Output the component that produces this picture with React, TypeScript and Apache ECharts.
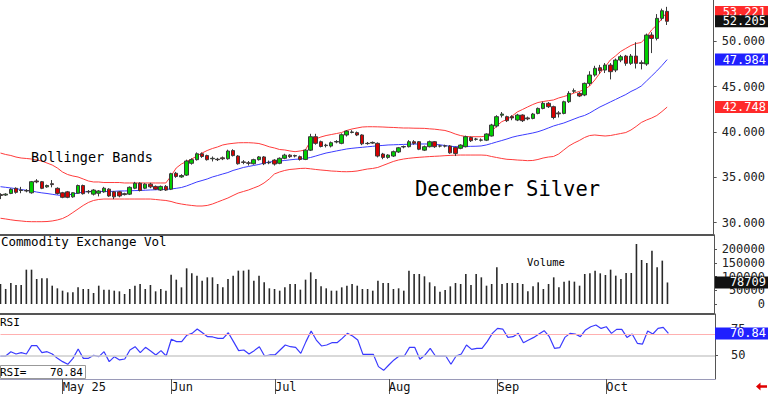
import React, { useEffect, useRef } from "react";
import * as echarts from "echarts";

const FONT = "'DejaVu Sans Mono', monospace";

// ---- sessions (category axis) ----
const firstSession = "2025-04-14";
const exchangeHolidays = ["2025-04-18", "2025-05-26", "2025-06-19", "2025-07-04", "2025-09-01"];
const emptySessionsAfter = 9;
const monthNames = ["Jan", "Feb", "Mar", "Apr", "May", "Jun", "Jul", "Aug", "Sep", "Oct", "Nov", "Dec"];

// ---- December Silver daily OHLC ----
const opens = [
  33.1, 33.05, 33.23, 33.79, 33.55, 33.55, 33.3, 34.6, 34.52, 33.95,
  34.3, 33.79, 33.3, 33.4, 32.85, 33.25, 34.1, 33.45, 33.15, 33.25,
  33.4, 33.7, 33.4, 33.4, 33.2, 33.15, 33.8, 34.35, 33.8, 34.25,
  34.0, 33.6, 34.0, 33.7, 35.45, 35.05, 35.25, 36.55, 36.95, 37.6,
  37.4, 37.05, 37.0, 37.15, 37.05, 37.95, 37.35, 36.7, 36.6, 36.5,
  36.95, 37.25, 36.6, 36.9, 36.55, 37.1, 37.45, 37.4, 37.28, 36.98,
  38.0, 39.48, 38.93, 38.5, 38.45, 38.9, 38.75, 39.67, 39.95, 39.93,
  39.67, 38.75, 38.78, 38.75, 37.57, 37.2, 37.35, 37.8, 38.35, 38.38,
  38.93, 38.93, 38.0, 38.38, 38.93, 38.45, 38.47, 38.45, 38.3, 38.2,
  38.38, 39.4, 39.2, 39.1, 39.1, 39.56, 40.66, 41.85, 41.69, 41.7,
  41.32, 41.87, 41.55, 41.5, 42.05, 42.6, 43.16, 42.79, 42.1, 42.05,
  43.34, 44.5, 44.26, 44.08, 45.36, 46.28, 47.09, 46.83, 47.38, 46.83,
  47.93, 48.37, 47.57, 48.37, 47.64, 47.5, 50.69, 50.32, 52.53, 53.3,
];
const closes = [
  33.0, 33.15, 33.68, 33.35, 33.6, 33.5, 34.52, 34.5, 33.79, 34.1,
  34.2, 33.23, 32.8, 32.8, 33.3, 34.1, 33.2, 33.4, 33.6, 33.5,
  33.8, 32.95, 32.85, 32.95, 33.1, 33.9, 34.35, 33.55, 34.25, 33.95,
  33.7, 34.0, 33.6, 35.4, 35.1, 35.2, 36.8, 36.95, 37.6, 37.3,
  36.95, 37.1, 36.95, 37.05, 37.9, 37.4, 36.5, 36.65, 36.55, 36.95,
  37.25, 36.5, 36.65, 36.47, 37.1, 37.45, 37.28, 37.35, 36.98, 38.0,
  39.48, 38.75, 38.4, 38.55, 38.82, 38.95, 39.7, 40.1, 40.0, 39.67,
  38.7, 38.72, 38.85, 37.35, 37.2, 37.46, 37.83, 38.26, 38.4, 38.93,
  38.75, 38.1, 38.38, 38.93, 38.38, 38.47, 38.45, 37.7, 37.64, 38.56,
  39.48, 39.04, 39.22, 39.12, 39.78, 40.77, 41.69, 41.98, 41.25, 41.55,
  41.87, 41.25, 41.45, 41.98, 42.6, 43.16, 42.79, 41.6, 42.0, 43.34,
  44.26, 44.55, 43.97, 45.36, 46.28, 47.02, 46.76, 47.38, 46.65, 47.93,
  48.3, 47.57, 48.37, 47.57, 47.55, 50.69, 50.32, 52.53, 53.37, 52.205,
];
const lows = [
  32.6, 32.95, 33.15, 33.2, 33.25, 33.35, 33.2, 34.35, 33.7, 33.85,
  33.9, 33.1, 32.7, 32.7, 32.75, 33.2, 33.1, 33.2, 33.0, 32.9,
  33.3, 32.85, 32.6, 32.8, 33.0, 33.05, 33.7, 33.45, 33.7, 33.8,
  33.6, 33.5, 33.5, 33.6, 34.95, 34.95, 35.15, 36.4, 36.85, 37.15,
  36.85, 36.75, 36.8, 36.9, 36.95, 37.3, 36.4, 36.45, 36.3, 36.4,
  36.85, 36.35, 36.45, 36.3, 36.45, 37.0, 37.15, 37.2, 36.85, 36.9,
  37.9, 38.6, 38.3, 38.3, 38.3, 38.75, 38.65, 39.5, 39.85, 39.55,
  38.55, 38.6, 38.7, 37.2, 37.0, 37.05, 37.25, 37.7, 38.2, 38.3,
  38.6, 38.0, 37.9, 38.3, 38.25, 38.3, 38.3, 37.6, 37.35, 38.1,
  38.3, 38.9, 39.05, 38.95, 39.0, 39.5, 40.5, 41.6, 41.1, 41.3,
  41.2, 41.1, 41.3, 41.4, 41.95, 42.5, 42.65, 41.4, 41.6, 41.95,
  43.2, 44.3, 43.85, 43.95, 45.1, 46.1, 46.4, 46.5, 45.8, 46.6,
  47.7, 47.3, 47.4, 47.0, 46.9, 47.3, 48.7, 50.1, 52.3, 51.8,
];
const highs = [
  33.25, 33.25, 33.8, 33.9, 33.95, 33.7, 34.6, 34.8, 34.6, 34.2,
  34.7, 33.9, 33.4, 33.5, 33.35, 34.2, 34.2, 33.6, 33.7, 33.6,
  33.95, 33.8, 33.5, 33.5, 33.3, 34.0, 34.5, 34.45, 34.35, 34.4,
  34.1, 34.1, 34.15, 35.5, 35.6, 35.35, 36.95, 37.1, 37.75, 37.75,
  37.5, 37.3, 37.15, 37.3, 38.05, 38.1, 37.45, 36.9, 36.8, 37.05,
  37.35, 37.35, 36.85, 37.0, 37.2, 37.6, 37.55, 37.5, 37.4, 38.1,
  39.8, 39.8, 39.05, 38.7, 38.95, 39.1, 39.85, 40.2, 40.2, 40.05,
  39.75, 38.9, 38.95, 38.85, 37.7, 37.55, 37.95, 38.35, 38.5, 39.1,
  39.1, 39.0, 38.5, 39.05, 39.0, 38.6, 38.6, 38.55, 38.4, 38.65,
  39.6, 39.5, 39.35, 39.3, 39.85, 40.9, 41.85, 42.2, 41.8, 41.85,
  42.0, 41.95, 41.7, 42.1, 42.7, 43.35, 43.3, 42.9, 42.3, 43.45,
  44.5, 44.8, 44.4, 45.45, 46.7, 47.3, 47.4, 47.6, 47.6, 48.1,
  48.5, 48.5, 48.6, 49.9, 47.9, 50.85, 51.0, 53.0, 53.6, 53.8,
];

// ---- Bollinger Bands ----
const bbUpper = [
  37.68, 37.52, 37.41, 37.24, 37.13, 37.08, 37.02, 36.91, 36.8, 36.58,
  36.36, 36.03, 35.59, 35.31, 35.15, 35.04, 34.82, 34.6, 34.49, 34.49,
  34.43, 34.43, 34.43, 34.43, 34.38, 34.38, 34.38, 34.38, 34.38, 34.38,
  34.38, 34.38, 34.38, 35.15, 36.03, 36.47, 36.75, 37.02, 37.35, 37.68,
  37.96, 38.18, 38.35, 38.57, 38.68, 38.75, 38.81, 38.82, 38.82, 38.79,
  38.73, 38.57, 38.37, 38.24, 38.07, 38.02, 37.91, 37.83, 37.91, 38.02,
  39.01, 39.23, 39.45, 39.61, 39.72, 39.83, 39.94, 40.17, 40.33, 40.44,
  40.55, 40.58, 40.58, 40.57, 40.55, 40.52, 40.5, 40.47, 40.44, 40.44,
  40.42, 40.41, 40.4, 40.35, 40.31, 40.24, 40.17, 40.0, 39.78, 39.61,
  39.5, 39.48, 39.48, 39.48, 39.56, 40.03, 40.66, 41.14, 41.38, 41.76,
  42.21, 42.48, 42.76, 43.03, 43.25, 43.36, 43.45, 43.53, 43.75, 43.91,
  44.08, 44.3, 44.47, 44.69, 45.07, 45.73, 46.5, 47.17, 47.94, 48.38,
  48.88, 49.21, 49.54, 49.76, 49.87, 50.47, 51.25, 51.8, 52.51, 53.221,
];
const bbMiddle = [
  33.97, 33.9, 33.83, 33.75, 33.66, 33.57, 33.5, 33.38, 33.29, 33.22,
  33.13, 33.05, 33.0, 33.05, 33.16, 33.27, 33.38, 33.44, 33.44, 33.44,
  33.44, 33.44, 33.46, 33.5, 33.5, 33.52, 33.54, 33.55, 33.58, 33.61,
  33.63, 33.66, 33.68, 33.72, 33.79, 33.88, 34.05, 34.27, 34.49, 34.65,
  34.82, 35.04, 35.2, 35.37, 35.53, 35.76, 35.92, 36.09, 36.2, 36.31,
  36.42, 36.58, 36.69, 36.75, 36.8, 36.86, 36.93, 36.99, 37.02, 37.08,
  37.19, 37.35, 37.52, 37.68, 37.79, 37.91, 38.02, 38.13, 38.2, 38.26,
  38.31, 38.37, 38.42, 38.48, 38.52, 38.57, 38.59, 38.61, 38.63, 38.65,
  38.67, 38.68, 38.68, 38.68, 38.64, 38.59, 38.51, 38.43, 38.38, 38.38,
  38.4, 38.42, 38.43, 38.46, 38.57, 38.73, 38.9, 39.06, 39.23, 39.42,
  39.56, 39.67, 39.78, 39.89, 40.03, 40.22, 40.44, 40.66, 40.83, 40.99,
  41.21, 41.43, 41.65, 41.82, 42.09, 42.43, 42.76, 43.03, 43.31, 43.58,
  43.86, 44.13, 44.47, 44.74, 45.07, 45.62, 46.17, 46.73, 47.33, 47.984,
];
const bbLower = [
  30.49, 30.41, 30.32, 30.24, 30.19, 30.13, 30.11, 30.11, 30.11, 30.13,
  30.19, 30.3, 30.46, 30.74, 31.12, 31.51, 31.9, 32.23, 32.45, 32.56,
  32.61, 32.61, 32.61, 32.61, 32.61, 32.61, 32.61, 32.61, 32.61, 32.61,
  32.56, 32.5, 32.45, 32.34, 32.17, 32.06, 31.97, 31.9, 31.84, 31.84,
  31.9, 32.06, 32.28, 32.5, 32.72, 33.0, 33.27, 33.44, 33.61, 33.83,
  34.05, 34.38, 34.82, 35.37, 35.59, 35.76, 35.87, 35.92, 35.98, 36.0,
  35.94, 35.87, 35.81, 35.76, 35.7, 35.67, 35.63, 35.62, 35.64, 35.7,
  35.81, 35.92, 35.98, 36.09, 36.31, 36.53, 36.75, 36.91, 37.02, 37.1,
  37.16, 37.21, 37.25, 37.29, 37.32, 37.35, 37.39, 37.42, 37.45, 37.46,
  37.46, 37.46, 37.46, 37.46, 37.43, 37.3, 37.19, 37.08, 36.99, 36.96,
  36.91, 36.88, 36.84, 36.86, 36.97, 37.13, 37.24, 37.3, 37.57, 38.02,
  38.46, 38.79, 39.06, 39.39, 39.61, 39.67, 39.61, 39.56, 39.61, 39.72,
  39.83, 39.94, 40.22, 40.61, 41.05, 41.32, 41.54, 41.82, 42.26, 42.748,
];

// ---- Commodity Exchange volume ----
const volumes = [
  73000, 55000, 77000, 69500, 69500, 125500, 125500, 91400, 93800, 93800,
  67000, 57300, 48700, 42600, 42600, 60900, 54800, 54800, 40200, 67000,
  52400, 52400, 48700, 46300, 36600, 54800, 67000, 73100, 54800, 69500,
  46300, 54800, 48700, 107200, 89000, 60900, 130400, 112100, 103600, 85300,
  97500, 97500, 73100, 60900, 91400, 103600, 121900, 121900, 125500, 85300,
  103600, 79200, 57300, 54800, 48700, 60900, 73100, 73100, 52400, 89000,
  115800, 91400, 64600, 57300, 48700, 48700, 60900, 67000, 73100, 67000,
  54800, 54800, 48700, 85300, 76800, 76800, 54800, 57300, 48700, 121900,
  109700, 109700, 101200, 79200, 64600, 45100, 51200, 64600, 76800, 73100,
  109700, 69500, 109700, 97500, 67000, 73100, 134100, 73100, 76800, 76800,
  76800, 73100, 46300, 64600, 79200, 54800, 73100, 97500, 60900, 81700,
  85300, 81700, 67000, 109700, 112100, 121900, 112100, 106000, 125500, 103600,
  91400, 113400, 113400, 219400, 160900, 149900, 195000, 134100, 158500, 78709,
];

// ---- RSI ----
const rsi = [
  49.5, 49.5, 53.6, 51.4, 52.7, 51.4, 59.3, 59.3, 52.7, 53.6,
  51.4, 47.3, 44.2, 41.7, 47.3, 56.1, 47.3, 47.3, 50.2, 48.9,
  53.6, 44.2, 48.9, 45.8, 46.7, 55.2, 58.3, 52.7, 57.7, 54.2,
  50.5, 54.6, 49.5, 65.3, 63.1, 63.1, 69.3, 70.9, 75.0, 71.5,
  67.8, 67.5, 66.2, 66.2, 71.5, 63.1, 54.6, 55.2, 51.4, 54.6,
  58.3, 49.5, 50.5, 50.5, 55.2, 59.9, 58.3, 57.7, 52.0, 63.1,
  73.1, 64.6, 59.0, 59.9, 62.1, 62.1, 66.2, 70.9, 68.4, 64.6,
  51.1, 51.1, 51.1, 39.5, 36.0, 41.0, 45.8, 49.5, 49.5, 57.7,
  57.7, 46.4, 50.5, 56.8, 49.5, 49.5, 49.5, 41.7, 49.5, 51.4,
  59.9, 55.8, 56.8, 56.8, 63.1, 70.9, 75.6, 75.0, 67.1, 67.8,
  70.9, 62.1, 64.6, 67.1, 70.3, 73.4, 67.8, 56.8, 57.4, 67.1,
  70.9, 70.3, 67.8, 74.1, 77.2, 78.8, 75.6, 77.2, 70.9, 74.7,
  74.7, 67.1, 70.3, 61.5, 60.8, 73.1, 70.3, 75.6, 76.6, 70.84,
];

const priceTicks = [30, 35, 40, 45, 50];
const volumeTicks = [0, 50000, 100000, 150000, 200000];
const rsiTicks = [50, 75];
const rsiOverbought = 70;
const rsiMidline = 50;

function buildSessions(start: string, count: number, closed: string[]): string[] {
  const out: string[] = [];
  const d = new Date(start + "T12:00:00Z");
  while (out.length < count) {
    const dow = d.getUTCDay();
    const iso = d.toISOString().slice(0, 10);
    if (dow !== 0 && dow !== 6 && !closed.includes(iso)) out.push(iso);
    d.setUTCDate(d.getUTCDate() + 1);
  }
  return out;
}

export default function App() {
  const ref = useRef<HTMLDivElement>(null);

  useEffect(() => {
    const el = ref.current;
    if (!el) return;
    const chart = echarts.init(el, null, { renderer: "svg" });
    const n = closes.length;
    const dates = buildSessions(firstSession, n + emptySessionsAfter, exchangeHolidays);

    const monthStarts = new Map<number, string>();
    let firstLabel = true;
    for (let i = 1; i < n; i++) {
      if (dates[i].slice(5, 7) !== dates[i - 1].slice(5, 7)) {
        const m = monthNames[Number(dates[i].slice(5, 7)) - 1];
        monthStarts.set(i, firstLabel ? `${m} ${dates[i].slice(2, 4)}` : m);
        firstLabel = false;
      }
    }
    const isMonthStart = (i: number) => monthStarts.has(i);

    const L = 0.5;
    const R = 53;
    const axisGrey = "#555";

    const xBase = (gi: number, extra: any = {}) => ({
      type: "category",
      gridIndex: gi,
      data: dates,
      boundaryGap: false,
      axisTick: { show: false },
      axisLabel: { show: false },
      splitLine: { show: false },
      ...extra,
    });

    const option: any = {
      animation: false,
      backgroundColor: "#ffffff",
      grid: [
        { left: L, right: R, top: 0, height: 235 },
        { left: L, right: R, top: 235, height: 79 },
        { left: L, right: R, top: 314, height: 65 },
      ],
      xAxis: [
        xBase(0, { axisLine: { show: true, onZero: false, lineStyle: { color: axisGrey, width: 2 } } }),
        xBase(1, { axisLine: { show: true, onZero: false, lineStyle: { color: axisGrey, width: 2 } } }),
        xBase(2, {
          axisLine: { show: true, onZero: false, lineStyle: { color: "#9a9ab8", width: 1 } },
          axisTick: { show: true, interval: isMonthStart, length: 15, lineStyle: { color: axisGrey } },
          axisLabel: {
            show: true,
            interval: isMonthStart,
            formatter: (_v: string, i: number) => monthStarts.get(i) ?? "",
            align: "left",
            margin: 2,
            fontFamily: FONT,
            fontSize: 12,
            color: "#111",
          },
        }),
      ],
      yAxis: [
        {
          type: "value",
          gridIndex: 0,
          position: "right",
          min: 28.644,
          max: 54.553,
          splitLine: { show: false },
          axisLine: { show: true, onZero: false, lineStyle: { color: axisGrey } },
          axisTick: { show: true, length: 3, customValues: priceTicks, lineStyle: { color: axisGrey } },
          axisLabel: {
            customValues: priceTicks,
            formatter: (v: number) => v.toFixed(3),
            margin: 8,
            fontFamily: FONT,
            fontSize: 12,
            color: "#222",
          },
        },
        {
          type: "value",
          gridIndex: 1,
          position: "right",
          min: -36560,
          max: 252260,
          splitLine: { show: false },
          axisLine: { show: true, onZero: false, lineStyle: { color: axisGrey } },
          axisTick: { show: true, length: 3, customValues: volumeTicks, lineStyle: { color: axisGrey } },
          axisLabel: {
            customValues: volumeTicks,
            formatter: (v: number) => String(v),
            align: "right",
            margin: 51,
            fontFamily: FONT,
            fontSize: 12,
            color: "#222",
          },
        },
        {
          type: "value",
          gridIndex: 2,
          position: "right",
          min: 27.8,
          max: 89.2,
          splitLine: { show: false },
          axisLine: { show: true, onZero: false, lineStyle: { color: axisGrey } },
          axisTick: { show: true, length: 3, customValues: rsiTicks, lineStyle: { color: axisGrey } },
          axisLabel: {
            customValues: rsiTicks,
            formatter: (v: number) => String(v),
            margin: 16,
            fontFamily: FONT,
            fontSize: 12,
            color: "#222",
          },
        },
      ],
      series: [
        {
          name: "Upper",
          type: "line",
          xAxisIndex: 0,
          yAxisIndex: 0,
          data: bbUpper,
          symbol: "none",
          lineStyle: { color: "#ff3c3c", width: 1 },
          z: 1,
        },
        {
          name: "Middle",
          type: "line",
          xAxisIndex: 0,
          yAxisIndex: 0,
          data: bbMiddle,
          symbol: "none",
          lineStyle: { color: "#3c3cff", width: 1 },
          z: 1,
        },
        {
          name: "Lower",
          type: "line",
          xAxisIndex: 0,
          yAxisIndex: 0,
          data: bbLower,
          symbol: "none",
          lineStyle: { color: "#ff3c3c", width: 1 },
          z: 1,
        },
        {
          name: "Price",
          type: "candlestick",
          xAxisIndex: 0,
          yAxisIndex: 0,
          barWidth: 4,
          data: opens.map((o, i) => [o, closes[i], lows[i], highs[i]]),
          itemStyle: {
            color: "#00d000",
            color0: "#d80000",
            borderColor: "#3a3a3a",
            borderColor0: "#3a3a3a",
            borderWidth: 1,
          },
          z: 3,
        },
        {
          name: "Volume",
          type: "bar",
          xAxisIndex: 1,
          yAxisIndex: 1,
          data: volumes,
          barWidth: 1.6,
          itemStyle: { color: "#2a2a2a" },
        },
        {
          name: "RSI",
          type: "line",
          xAxisIndex: 2,
          yAxisIndex: 2,
          data: rsi,
          symbol: "none",
          lineStyle: { color: "#3a3aff", width: 1.2 },
          markLine: {
            silent: true,
            symbol: "none",
            label: { show: false },
            data: [
              { yAxis: rsiOverbought, lineStyle: { color: "#ffb0b0", width: 1, type: "solid" } },
              { yAxis: rsiMidline, lineStyle: { color: "#cccccc", width: 1.5, type: "solid" } },
            ],
          },
        },
      ],
    };

    chart.setOption(option);

    const yPix = (axis: number, v: number) => chart.convertToPixel({ yAxisIndex: axis } as any, v) as unknown as number;
    const tag = (axis: number, v: number, text: string, fill: string, z: number) => [
      { type: "rect", shape: { x: 715, y: yPix(axis, v) - 6, width: 53, height: 12 }, style: { fill }, z },
      {
        type: "text",
        x: 766,
        y: yPix(axis, v),
        style: {
          text,
          fill: "#ffffff",
          font: `12px ${FONT}`,
          textAlign: "right",
          textVerticalAlign: "middle",
          align: "right",
          verticalAlign: "middle",
        },
        z: z + 1,
      },
    ];
    const txt = (x: number, y: number, text: string, size: number, extra: any = {}) => ({
      type: "text",
      x,
      y,
      style: {
        text,
        fill: "#000000",
        font: `${size}px ${FONT}`,
        textVerticalAlign: "middle",
        verticalAlign: "middle",
        ...extra,
      },
      z: 50,
    });

    const lastUpper = bbUpper[n - 1];
    const lastMid = bbMiddle[n - 1];
    const lastLow = bbLower[n - 1];
    const lastClose = closes[n - 1];
    const lastVol = volumes[n - 1];
    const lastRsi = rsi[n - 1];

    const elements: any[] = [
      txt(31, 157, "Bollinger Bands", 13.5),
      txt(415, 189, "December Silver", 20.5),
      txt(1, 241.5, "Commodity Exchange Vol", 12.5),
      txt(527, 261.5, "Volume", 10.5),
      txt(0, 322.5, "RSI", 11),
      { type: "rect", shape: { x: 0.5, y: 365.5, width: 85, height: 13 }, style: { fill: "#ffffff", stroke: "#999999", lineWidth: 1 }, z: 49 },
      txt(0, 372.5, "RSI=", 11),
      txt(83, 372.5, lastRsi.toFixed(2), 11, { textAlign: "right", align: "right" }),
      ...tag(0, lastUpper, lastUpper.toFixed(3), "#ff2a2a", 100),
      ...tag(0, lastClose, lastClose.toFixed(3), "#111111", 102),
      ...tag(0, lastMid, lastMid.toFixed(3), "#2020ff", 100),
      ...tag(0, lastLow, lastLow.toFixed(3), "#ff2a2a", 100),
      ...tag(1, lastVol, String(lastVol), "#111111", 100),
      ...tag(2, lastRsi, lastRsi.toFixed(2), "#2020ff", 100),
      {
        type: "polygon",
        shape: { points: [[756, 386.5], [760.5, 382.5], [760.5, 385.3], [767, 385.3], [767, 387.7], [760.5, 387.7], [760.5, 390.5]] },
        style: { fill: "#e00000" },
        z: 50,
      },
    ];
    chart.setOption({ graphic: elements });

    return () => {
      chart.dispose();
    };
  }, []);

  return (
    <div
      ref={ref}
      style={{ position: "fixed", left: 0, top: 0, width: 768, height: 394, background: "#ffffff" }}
    />
  );
}
